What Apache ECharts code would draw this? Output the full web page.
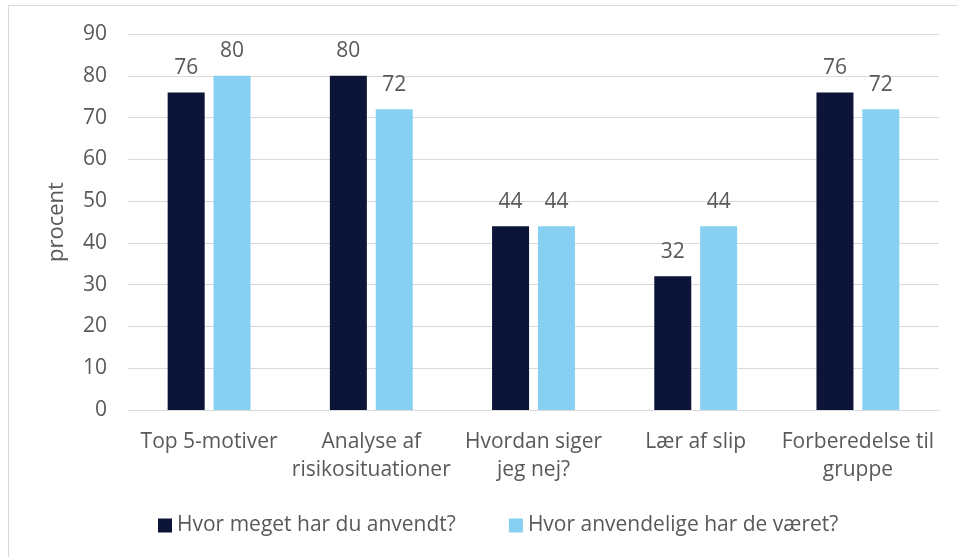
<!DOCTYPE html>
<html>
<head>
<meta charset="utf-8">
<script src="https://cdn.jsdelivr.net/npm/echarts@6/dist/echarts.min.js"></script>
<style>
  html, body { margin: 0; padding: 0; background: #fff; overflow: hidden; }
  #frame { position: absolute; left: 8px; top: 5px; width: 960px; height: 560px; border-left: 1px solid #d9d9d9; border-top: 1px solid #d9d9d9; box-sizing: border-box; }
  #chart { position: absolute; left: 0; top: 0; width: 957px; height: 557px; }
</style>
</head>
<body>
<div id="frame"></div>
<div id="chart"></div>
<script>
var categories = ['Top 5-motiver', 'Analyse af\nrisikosituationer', 'Hvordan siger\njeg nej?', 'Lær af slip', 'Forberedelse til\ngruppe']
var seriesNames = ['Hvor meget har du anvendt?', 'Hvor anvendelige har de været?']
var used = [76, 80, 44, 32, 76]
var usefulness = [80, 72, 44, 44, 72]
var yTicks = { min: 0, max: 90, interval: 10 }

var textColor = '#595959'
var font = 'Open Sans'
var fs = 21

var chart = echarts.init(document.getElementById('chart'))
chart.setOption({
    animation: false,
    textStyle: { fontFamily: font },
    grid: { left: 128, right: 18, top: 34, bottom: 147 },
    legend: {
        top: 510,
        left: 153,
        itemWidth: 14,
        itemHeight: 14,
        itemGap: 53,
        icon: 'rect',
        textStyle: { color: textColor, fontSize: fs, fontFamily: font },
        data: seriesNames
    },
    xAxis: {
        type: 'category',
        data: categories,
        axisTick: { show: false },
        axisLine: { lineStyle: { color: '#d9d9d9', width: 1 } },
        axisLabel: { color: textColor, fontSize: fs, lineHeight: 28, margin: 18, interval: 0, fontFamily: font }
    },
    yAxis: {
        type: 'value',
        min: yTicks.min,
        max: yTicks.max,
        interval: yTicks.interval,
        name: 'procent',
        nameLocation: 'middle',
        nameGap: 60,
        nameTextStyle: { color: textColor, fontSize: 22, fontFamily: font },
        axisLine: { show: false },
        axisTick: { show: false },
        splitLine: { lineStyle: { color: '#d9d9d9', width: 1 } },
        axisLabel: { color: textColor, fontSize: fs, margin: 21, fontFamily: font }
    },
    series: [
        {
            name: seriesNames[0],
            type: 'bar',
            data: used,
            barWidth: 37,
            barGap: '24%',
            itemStyle: { color: '#0c1538' },
            label: { show: true, position: 'top', distance: 14, color: textColor, fontSize: fs, fontFamily: font }
        },
        {
            name: seriesNames[1],
            type: 'bar',
            data: usefulness,
            barWidth: 37,
            itemStyle: { color: '#87d0f2' },
            label: { show: true, position: 'top', distance: 14, color: textColor, fontSize: fs, fontFamily: font }
        }
    ]
})
</script>
</body>
</html>
